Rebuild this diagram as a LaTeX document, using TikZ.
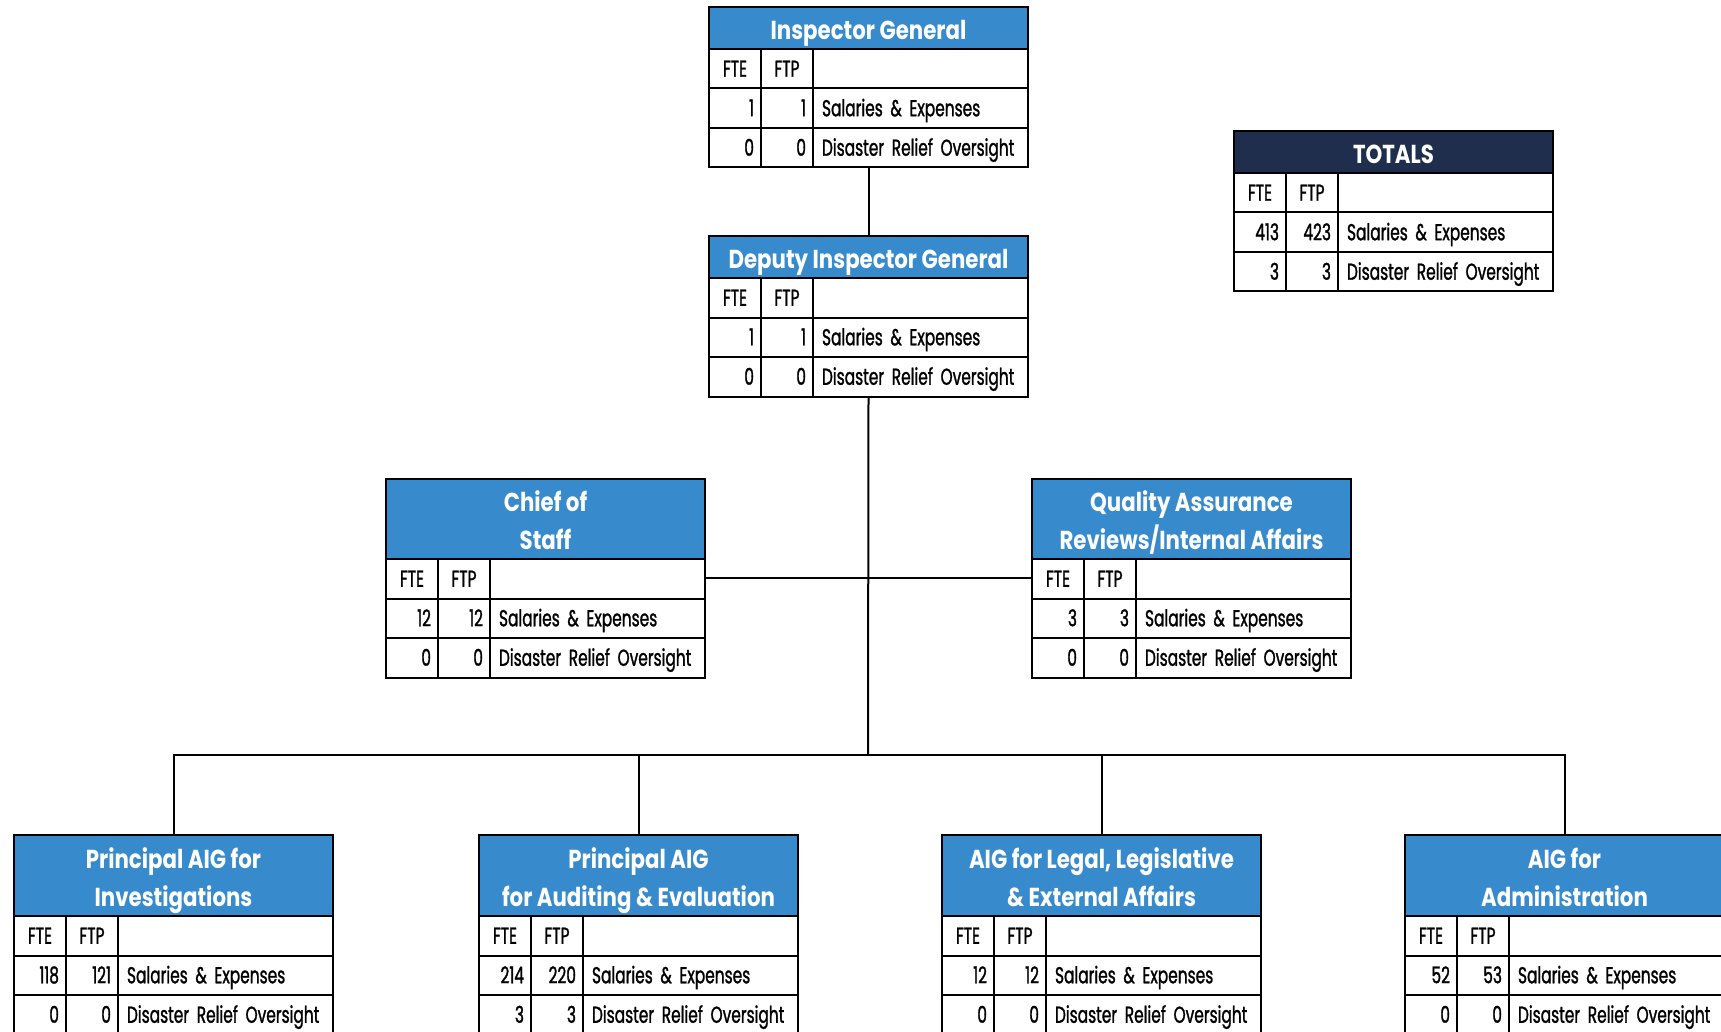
\documentclass[tikz,border=0pt]{standalone}
\usepackage{fontspec}
\newfontfamily\hdrfont{Poppins}[FakeStretch=0.82]
\newfontfamily\bodyfont{Poppins}[FakeStretch=0.67,FakeBold=1.2]
\definecolor{hdrblue}{RGB}{55,138,204}
\definecolor{hdrnavy}{RGB}{30,46,76}
\def\hdrcol{hdrblue}
\newcommand{\orgbox}[9]{%
  \node[frame, minimum height={#4pt+118.5pt}] (#1) at (#2,#3) {};
  \node[hdr, minimum height=#4pt] (#1-h) at (#2,#3) {};
  \node[hdrtext] (#1-t) at (#1-h.center) {#5};
  \node[labcell] (#1-a1) at (#2,{#3+#4}) {FTE};
  \node[labcell] (#1-b1) at ({#2+52},{#3+#4}) {FTP};
  \node[txtcell] (#1-c1) at ({#2+104},{#3+#4}) {};
  \node[numcell] (#1-a2) at (#2,{#3+#4+39.5}) {#6};
  \node[numcell] (#1-b2) at ({#2+52},{#3+#4+39.5}) {#7};
  \node[txtcell] (#1-c2) at ({#2+104},{#3+#4+39.5}) {Salaries \& Expenses};
  \node[numcell] (#1-a3) at (#2,{#3+#4+79}) {#8};
  \node[numcell] (#1-b3) at ({#2+52},{#3+#4+79}) {#9};
  \node[txtcell] (#1-c3) at ({#2+104},{#3+#4+79}) {Disaster Relief Oversight};
}
\newcommand{\sm}[1]{\smash{#1}}
\begin{document}
\begin{tikzpicture}[x=1pt,y=-1pt,
  frame/.style={draw=black, line width=2pt, inner sep=0pt, outer sep=0pt, anchor=north west, minimum width=319pt},
  hdr/.style={draw=black, line width=2pt, fill=\hdrcol, anchor=north west, minimum width=319pt, inner sep=0pt, outer sep=0pt},
  hdrtext/.style={text=white, font=\hdrfont\bfseries\fontsize{26}{38}\selectfont, align=center, inner sep=0pt, anchor=center, yshift=-11.5pt},
  cellbase/.style={draw=black, line width=2pt, anchor=north west, minimum height=39.5pt, font=\bodyfont\fontsize{23}{26}\selectfont, text height=16pt, text depth=0pt, inner ysep=0pt, outer sep=0pt},
  numcell/.style={cellbase, text width=38pt, inner xsep=7pt, align=right, minimum width=52pt},
  labcell/.style={cellbase, text width=52pt, inner xsep=0pt, align=center, minimum width=52pt},
  txtcell/.style={cellbase, text width=197pt, inner xsep=9pt, align=left, minimum width=215pt},
  link/.style={draw=black, line width=2pt}
]
\useasboundingbox (0,0) rectangle (1721,1032);
\clip (0,0) rectangle (1721,1032);
\fill[white] (0,0) rectangle (1721,1032);

\orgbox{ig}{709}{7}{42}{\sm{Inspector General}}{1}{1}{0}{0}
\orgbox{dig}{709}{236}{42}{\sm{Deputy Inspector General}}{1}{1}{0}{0}
{\def\hdrcol{hdrnavy}\orgbox{tot}{1234}{131}{42}{\sm{TOTALS}}{413}{423}{3}{3}}
\orgbox{cos}{386}{479}{80}{\sm{Chief of}\\\sm{Staff}}{12}{12}{0}{0}
\orgbox{qa}{1032}{479}{80}{\sm{Quality Assurance}\\\sm{Reviews/Internal Affairs}}{3}{3}{0}{0}
\orgbox{inv}{14}{835}{81}{\sm{Principal AIG for}\\\sm{Investigations}}{118}{121}{0}{0}
\orgbox{aud}{479}{835}{81}{\sm{Principal AIG}\\\sm{for Auditing \& Evaluation}}{214}{220}{3}{3}
\orgbox{leg}{942}{835}{81}{\sm{AIG for Legal, Legislative}\\\sm{\& External Affairs}}{12}{12}{0}{0}
\orgbox{adm}{1405}{835}{81}{\sm{AIG for}\\\sm{Administration}}{52}{53}{0}{0}

\coordinate (bus) at (868,755);
\draw[link] (ig.south) -- (dig.north);
\draw[link] (dig.south) -- (bus);
\draw[link] (cos.east) -- (qa.west);
\draw[link] (inv.north) |- (bus);
\draw[link] (aud.north) |- (bus);
\draw[link] (leg.north) |- (bus);
\draw[link] (adm.north) |- (bus);
\end{tikzpicture}
\end{document}
